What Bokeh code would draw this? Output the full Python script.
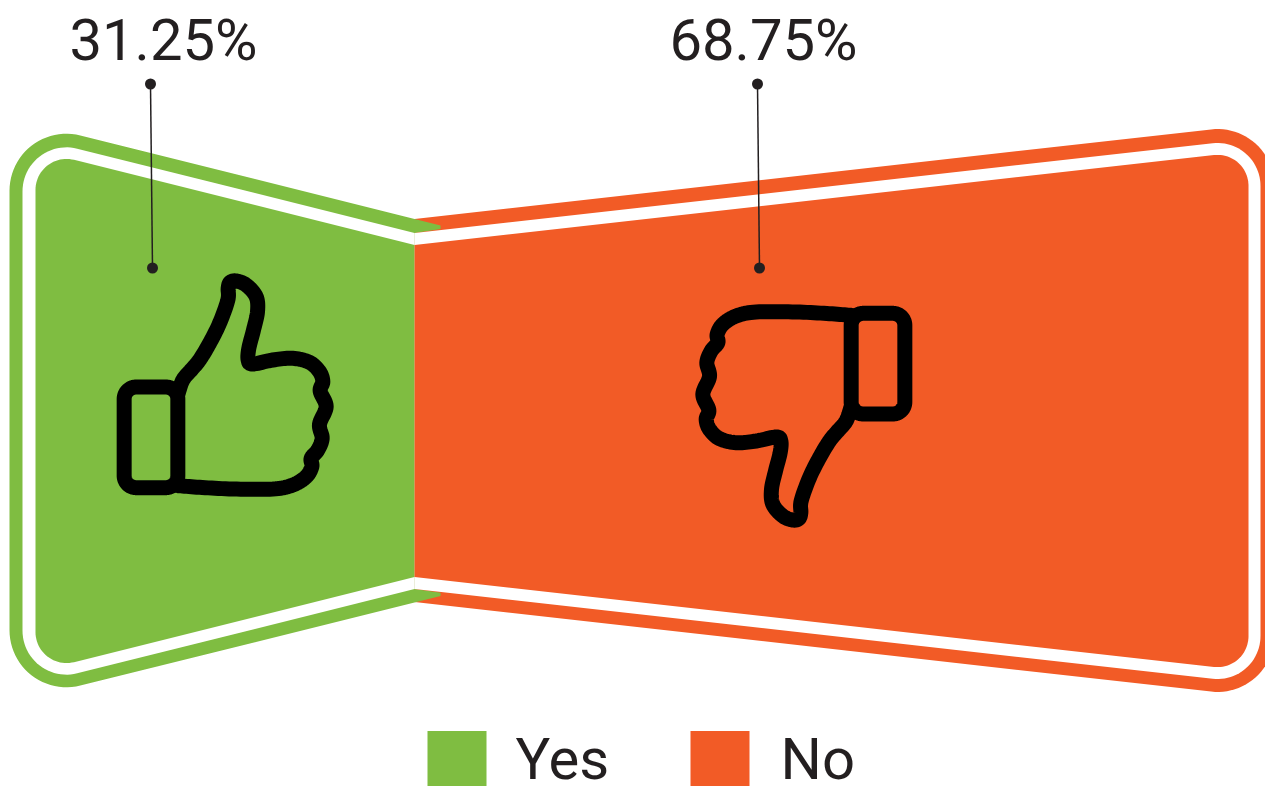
import math

from bokeh.core.properties import value
from bokeh.embed import file_html
from bokeh.models import Range1d
from bokeh.plotting import figure
from bokeh.resources import INLINE

# Survey result
categories = ["Yes", "No"]
shares = [31.25, 68.75]
share_labels = ["31.25%", "68.75%"]
colors = ["#7FBD41", "#F25B26"]

INK = "#231F20"
FONT = value("Roboto")

# Thumb icon centre line, in thirds of a pixel
THUMB_OUTLINE = [
    (236, 385), (250, 345), (275, 315), (300, 285), (330, 235), (360, 175),
    (385, 105), (386, 70), (392, 52), (410, 48), (440, 60), (470, 95),
    (474, 140), (462, 195), (448, 250), (446, 285), (460, 297), (520, 285),
    (580, 280), (630, 292), (660, 320), (670, 350), (662, 378), (680, 425),
    (660, 478), (668, 520), (655, 555), (635, 580), (637, 605), (620, 635),
    (580, 660), (520, 672), (400, 672), (300, 667), (236, 662),
]
CUFF_BOX = (74, 366, 235, 668)


def fillet(vertices, radii, steps=24):
    """Close a polygon, rounding each vertex with the radius given for it."""
    xs, ys = [], []
    n = len(vertices)
    for i, (vx, vy) in enumerate(vertices):
        r = radii[i]
        if r == 0:
            xs.append(vx)
            ys.append(vy)
            continue
        ax, ay = vertices[i - 1]
        bx, by = vertices[(i + 1) % n]
        ux, uy = ax - vx, ay - vy
        wx, wy = bx - vx, by - vy
        lu, lw = math.hypot(ux, uy), math.hypot(wx, wy)
        ux, uy, wx, wy = ux / lu, uy / lu, wx / lw, wy / lw
        half = math.acos(max(-1, min(1, ux * wx + uy * wy))) / 2
        d = r / math.tan(half)
        mx, my = ux + wx, uy + wy
        lm = math.hypot(mx, my)
        cx, cy = vx + mx / lm * r / math.sin(half), vy + my / lm * r / math.sin(half)
        a0 = math.atan2(vy + uy * d - cy, vx + ux * d - cx)
        a1 = math.atan2(vy + wy * d - cy, vx + wx * d - cx)
        delta = (a1 - a0 + math.pi) % (2 * math.pi) - math.pi
        for k in range(steps + 1):
            a = a0 + delta * k / steps
            xs.append(cx + r * math.cos(a))
            ys.append(cy + r * math.sin(a))
    return xs, ys


def smooth(points, steps=10):
    """Catmull-Rom curve through the given points."""
    pts = [points[0]] + list(points) + [points[-1]]
    out = []
    for i in range(1, len(pts) - 2):
        p0, p1, p2, p3 = pts[i - 1], pts[i], pts[i + 1], pts[i + 2]
        for k in range(steps):
            t = k / steps
            out.append(tuple(
                0.5 * (2 * p1[c] + (p2[c] - p0[c]) * t
                       + (2 * p0[c] - 5 * p1[c] + 4 * p2[c] - p3[c]) * t ** 2
                       + (3 * p1[c] - p0[c] - 3 * p2[c] + p3[c]) * t ** 3)
                for c in (0, 1)))
    out.append(points[-1])
    return out


p = figure(
    width=1265, height=786, output_backend="svg", toolbar_location=None,
    x_range=Range1d(1, 1266), y_range=Range1d(786.5, 0.5), min_border=0,
    outline_line_color=None, background_fill_color="white",
)
p.axis.visible = False
p.grid.visible = False

# The boundary between the two panels sits at the "Yes" share of the inner width
INNER_LEFT, INNER_RIGHT = 36, 1249
split = INNER_LEFT + (INNER_RIGHT - INNER_LEFT) * shares[0] / sum(shares)

GREEN_SLOPE = 0.25
ORANGE_SLOPE = 0.1125


def left_panel(left, top_at_split, bottom_at_split, r):
    span = split - left
    return fillet(
        [(left, top_at_split - GREEN_SLOPE * span), (split, top_at_split),
         (split, bottom_at_split), (left, bottom_at_split + GREEN_SLOPE * span)],
        [r, 0, 0, r],
    )


def right_panel(right, top_at_split, bottom_at_split, r):
    span = right - split
    return fillet(
        [(split, top_at_split), (right, top_at_split - ORANGE_SLOPE * span),
         (right, bottom_at_split + ORANGE_SLOPE * span), (split, bottom_at_split)],
        [0, r, r, 0],
    )


# Outer bands; the green one ends in small tips over the orange band
rx, ry = right_panel(1275, 219, 602, 57)
p.patch(rx, ry, fill_color=colors[1], line_color=None)

gx, gy = left_panel(10, 219, 602, 57)
top_i = gx.index(split)
band_x = gx[:top_i + 1] + [split + 26, split + 26, split, split, split + 26, split + 26] + gx[top_i + 2:]
band_y = (gy[:top_i + 1]
          + [219 + GREEN_SLOPE * 26, 229, 233, 589, 592.7, 596]
          + gy[top_i + 2:])
p.patch(band_x, band_y, fill_color=colors[0], line_color=None)

# White rings
wx, wy = left_panel(23, 233, 589, 44)
p.patch(wx, wy, fill_color="white", line_color=None)
wx, wy = right_panel(1261, 233, 589, 43)
p.patch(wx, wy, fill_color="white", line_color=None)

# Inner fills
fx, fy = left_panel(INNER_LEFT, 245, 577, 31)
p.patch(fx, fy, fill_color=colors[0], line_color=None)
fx, fy = right_panel(INNER_RIGHT, 245, 577, 31)
p.patch(fx, fy, fill_color=colors[1], line_color=None)


def draw_thumb(to_page):
    curve = smooth(THUMB_OUTLINE)
    cx, cy = zip(*(to_page(u, v) for u, v in curve))
    p.line(cx, cy, line_color="black", line_width=15, line_join="round", line_cap="round")
    x0, y0, x1, y1 = CUFF_BOX
    corners = [to_page(x0, y0), to_page(x1, y0), to_page(x1, y1), to_page(x0, y1)]
    bx, by = fillet(corners, [12, 12, 12, 12])
    p.patch(bx + bx[:1], by + by[:1], fill_color=None, line_color="black",
            line_width=15, line_join="round")


def thumb_up(u, v):
    return 100 + u / 3, 265 + v / 3


def thumb_down(u, v):
    x, y = thumb_up(u, v)
    return 1030 - x, 801 - y


draw_thumb(thumb_up)
draw_thumb(thumb_down)

# Leader lines from each value to its panel
for x_top, x_bottom in [(151, 153), (758, 760)]:
    p.line([x_top, x_bottom], [84, 268], line_color=INK, line_width=1.5)
    p.scatter([x_top, x_bottom], [84, 268], size=11, fill_color=INK, line_color=None)

# Value labels
p.text([164, 764], [39.5, 39.5], text=share_labels, text_font=FONT, text_font_size="58px",
       text_color=INK, text_align="center", text_baseline="middle")

# Legend
for left, label_x, name, color in zip([428, 691], [516, 781], categories, colors):
    p.quad(left=[left], right=[left + 59], top=[731], bottom=[786.5],
           fill_color=color, line_color=None)
    p.text([label_x], [759], text=[name], text_font=FONT, text_font_size="58px",
           text_color=INK, text_align="left", text_baseline="middle")

open("out.html", "w").write(file_html(p, INLINE))
